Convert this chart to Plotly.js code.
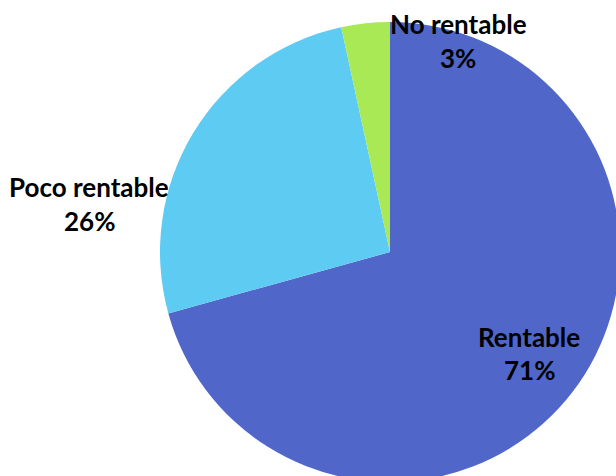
<!DOCTYPE html>
<html>
<head>
<meta charset="utf-8">
<script src="https://cdn.plot.ly/plotly-3.0.1.min.js"></script>
<style>
html,body{margin:0;padding:0;width:616px;height:476px;overflow:hidden;background:#fff;position:relative;}
#chart{position:absolute;left:-70px;top:-208px;width:920px;height:920px;}
</style>
</head>
<body>
<div id="chart"></div>
<script>
const categories = ["Rentable", "Poco rentable", "No rentable"];
const values = [70.7, 25.9, 3.4];
const colors = ["#5067C9", "#5ECBF2", "#A9E955"];

// label anchor positions (window pixels) for each category: [x, yLine1, yLine2]
const labelPos = [[529, 337, 370], [89, 187, 221], [458, 24, 58]];

const W = 920, H = 920, OX = -70, OY = -208;
const px = x => (x - OX) / W;
const py = y => 1 - (y - OY) / H;
const total = values.reduce((a, b) => a + b, 0);
const font = {family: "Lato, 'Open Sans', sans-serif", size: 26, color: "#000"};

const annotations = [];
categories.forEach((c, i) => {
  const p = labelPos[i];
  annotations.push({xref: "paper", yref: "paper", x: px(p[0]), y: py(p[1]), text: "<b>" + c + "</b>",
    showarrow: false, xanchor: "center", yanchor: "middle", font: font});
  annotations.push({xref: "paper", yref: "paper", x: px(p[0]), y: py(p[2]),
    text: "<b>" + Math.round(values[i] / total * 100) + "%</b>",
    showarrow: false, xanchor: "center", yanchor: "middle", font: font});
});

Plotly.newPlot("chart", [{
  type: "pie",
  labels: categories,
  values: values,
  sort: false,
  direction: "clockwise",
  rotation: 0,
  marker: {colors: colors, line: {width: 0}},
  textinfo: "none",
  hoverinfo: "skip",
  domain: {x: [0.25, 0.75], y: [0.25, 0.75]}
}], {
  width: W, height: H,
  margin: {l: 0, r: 0, t: 0, b: 0},
  showlegend: false,
  paper_bgcolor: "#fff",
  annotations: annotations
}, {displayModeBar: false, staticPlot: true});
</script>
</body>
</html>
